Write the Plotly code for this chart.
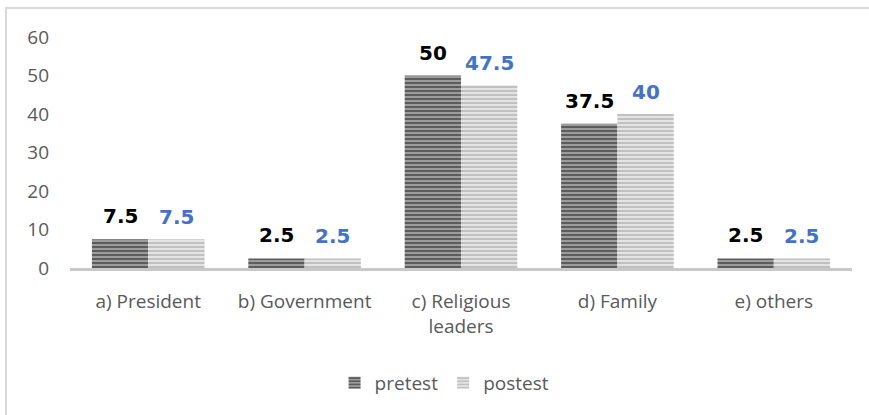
import plotly.graph_objects as go

categories = ["a) President", "b) Government", "c) Religious<br>leaders", "d) Family", "e) others"]
pretest = [7.5, 2.5, 50, 37.5, 2.5]
postest = [7.5, 2.5, 47.5, 40, 2.5]
y_ticks = [0, 10, 20, 30, 40, 50, 60]

W, H = 869, 415
ML, MR, MT, MB = 70, 17, 37, 147
FONT = "Open Sans"
LABEL_FONT = "DejaVu Sans"
PW = W - ML - MR
PH = H - MT - MB
BARGAP = 0.28
bar_px = PW / len(categories) * (1 - BARGAP) / 2

fig = go.Figure()
fig.add_trace(go.Bar(
    name="pretest", x=categories, y=pretest,
    marker=dict(color="#8c8c8c", line=dict(width=0),
                pattern=dict(shape="-", fgcolor="#555555", bgcolor="#9c9c9c",
                             size=4, solidity=0.45, fillmode="replace")),
))
fig.add_trace(go.Bar(
    name="postest", x=categories, y=postest,
    marker=dict(color="#d0d0d0", line=dict(width=0),
                pattern=dict(shape="-", fgcolor="#bcbcbc", bgcolor="#e4e4e4",
                             size=4, solidity=0.45, fillmode="replace")),
))

annotations = []
for cat, v in zip(categories, pretest):
    annotations.append(dict(x=cat, y=v, xref="x", yref="y", text=f"<b>{v:g}</b>",
                            showarrow=False, xshift=-bar_px / 2, yshift=23, yanchor="middle",
                            font=dict(family=LABEL_FONT, size=20, color="#000000")))
for cat, v in zip(categories, postest):
    annotations.append(dict(x=cat, y=v, xref="x", yref="y", text=f"<b>{v:g}</b>",
                            showarrow=False, xshift=bar_px / 2, yshift=22, yanchor="middle",
                            font=dict(family=LABEL_FONT, size=20, color="#4472C4")))

fig.update_layout(
    width=W, height=H,
    margin=dict(l=ML, r=MR, t=MT, b=MB),
    paper_bgcolor="white", plot_bgcolor="white",
    barmode="group", bargap=BARGAP, bargroupgap=0,
    font=dict(family=FONT, size=19, color="#595959"),
    xaxis=dict(showgrid=False, showline=True, linecolor="#c8c8c8", linewidth=3,
               ticks="", tickfont=dict(size=19, color="#595959"), ticklabelstandoff=14),
    yaxis=dict(range=[0, 60], tickvals=y_ticks, showgrid=False, zeroline=False,
               showline=False, ticks="", tickfont=dict(size=19, color="#595959"),
               ticklabelstandoff=20),
    legend=dict(orientation="h", x=0.479, xanchor="center", y=-115 / PH, yanchor="middle",
                font=dict(size=19, color="#595959"), itemwidth=30, traceorder="normal"),
    annotations=annotations,
    shapes=[dict(type="rect", xref="paper", yref="paper",
                 x0=(6 - ML) / PW, x1=(W + 20 - ML) / PW,
                 y0=-(H + 20 - (H - MB)) / PH,
                 y1=(H - MB - 8) / PH,
                 line=dict(color="#d9d9d9", width=2), layer="below")],
)

fig.write_html("out.html", config={"displayModeBar": False},
               post_script="document.body.style.margin='0';document.body.style.overflow='hidden';")
